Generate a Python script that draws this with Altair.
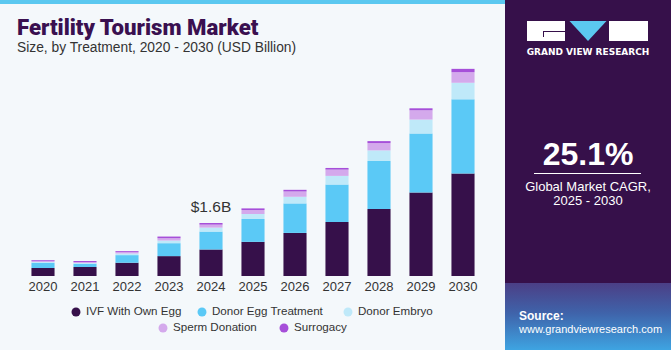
import altair as alt
import pandas as pd

years = ["2020", "2021", "2022", "2023", "2024", "2025", "2026", "2027", "2028", "2029", "2030"]
series = ["IVF With Own Egg", "Donor Egg Treatment", "Donor Embryo", "Sperm Donation", "Surrogacy"]
ivf_own_egg = [0.24, 0.27, 0.40, 0.60, 0.80, 1.03, 1.30, 1.63, 2.02, 2.52, 3.09]
donor_egg = [0.16, 0.10, 0.23, 0.39, 0.54, 0.69, 0.89, 1.13, 1.45, 1.78, 2.24]
donor_embryo = [0.02, 0.02, 0.05, 0.08, 0.12, 0.15, 0.20, 0.26, 0.32, 0.42, 0.50]
sperm_donation = [0.04, 0.03, 0.04, 0.07, 0.09, 0.12, 0.16, 0.19, 0.22, 0.28, 0.32]
surrogacy = [0.02, 0.03, 0.03, 0.05, 0.05, 0.05, 0.05, 0.05, 0.06, 0.06, 0.10]
colors = ["#36104a", "#5bc9f6", "#bfe9f9", "#d4a9ec", "#a64fd9"]
annot_year = "2024"

FONT = "Liberation Sans"
OX, OY = 22, 44  # plot origin in page
W, H = 462, 232

values = [ivf_own_egg, donor_egg, donor_embryo, sperm_donation, surrogacy]
rows = []
for si, (s, vals) in enumerate(zip(series, values)):
    for y, v in zip(years, vals):
        rows.append({"year": y, "series": s, "value": v, "order": si})
df = pd.DataFrame(rows)

dummy = pd.DataFrame({"a": [0]})


def rect(x1, y1, x2, y2, color, **kw):
    return alt.Chart(dummy).mark_rect(color=color, **kw).encode(
        x=alt.value(x1 - OX), x2=alt.value(x2 - OX),
        y=alt.value(y1 - OY), y2=alt.value(y2 - OY))


def txt(s, x, y, size, color, weight="normal", align="left", baseline="middle", font=FONT, **kw):
    return alt.Chart(dummy).mark_text(text=s, fontSize=size, color=color, fontWeight=weight,
                                      align=align, baseline=baseline, font=font, **kw).encode(
        x=alt.value(x - OX), y=alt.value(y - OY))


layers = []
# top strip
layers.append(rect(0, 0, 505, 4, "#5bc8f0"))
# right panel
layers.append(rect(505, 0, 671, 350, "#36104a"))
layers.append(rect(505, 283, 671, 350, alt.Gradient(
    gradient="linear", x1=0, x2=0, y1=0, y2=1,
    stops=[alt.GradientStop(color="#4b3f86", offset=0),
           alt.GradientStop(color="#3f63aa", offset=0.45),
           alt.GradientStop(color="#3ea4e2", offset=1)])))
# logo
layers.append(rect(527, 21, 565, 41, "#ffffff"))
layers.append(rect(609, 21, 648, 41, "#ffffff"))
layers.append(rect(543, 31, 565, 32, "#36104a"))
layers.append(rect(543, 31, 544, 37, "#36104a"))
layers.append(alt.Chart(dummy).mark_point(shape="M -1 -0.54 L 1 -0.54 L 0 0.54 Z", filled=True,
                                          fill="#5bc8f0", strokeWidth=0, size=1369, opacity=1).encode(
    x=alt.value(588 - OX), y=alt.value(31 - OY)))
layers.append(txt("GRAND VIEW RESEARCH", 588, 52, 9.0, "#ffffff", weight="bold", align="center",
                  font="DejaVu Sans"))
# CAGR
layers.append(txt("25.1%", 588, 155, 32, "#ffffff", weight="bold", align="center"))
layers.append(rect(534, 173, 641, 174, "#ffffff"))
layers.append(txt("Global Market CAGR,", 588, 187, 13, "#ffffff", align="center"))
layers.append(txt("2025 - 2030", 588, 201, 13, "#ffffff", align="center"))
layers.append(txt("Source:", 519, 316, 12, "#ffffff", weight="bold"))
layers.append(txt("www.grandviewresearch.com", 519, 330, 11, "#ffffff"))
# titles
layers.append(txt("Fertility Tourism Market", 17, 28, 22.2, "#3a1050", weight=900, font="Roboto"))
layers.append(txt("Size, by Treatment, 2020 - 2030 (USD Billion)", 17, 48, 13.8, "#333333"))

# bars
bars = alt.Chart(df).mark_bar().encode(
    x=alt.X("year:N", sort=years, title=None,
            scale=alt.Scale(paddingInner=0.45, paddingOuter=0.225),
            axis=alt.Axis(labelAngle=0, ticks=False, domain=False, labelFont=FONT,
                          labelFontSize=13, labelColor="#333333", labelPadding=4)),
    y=alt.Y("value:Q", stack="zero", title=None, scale=alt.Scale(domain=[0, 7]), axis=None),
    color=alt.Color("series:N", scale=alt.Scale(domain=series, range=colors), legend=None),
    order=alt.Order("order:Q", sort="ascending"),
)

idx = years.index(annot_year)
total = sum(v[idx] for v in values)
ann = pd.DataFrame({"year": [annot_year], "value": [total], "label": [f"${total:.1f}B"]})
ann_text = alt.Chart(ann).mark_text(font=FONT, fontSize=15.5, color="#333333", baseline="bottom",
                                    dy=-8).encode(
    x=alt.X("year:N", sort=years), y=alt.Y("value:Q"), text="label:N")
layers.append(alt.layer(bars, ann_text))

# legend
leg_pos = [(76, 312), (202, 312), (348, 312), (163, 328), (284, 328)]
leg = pd.DataFrame({"series": series,
                    "px": [p[0] - OX for p in leg_pos],
                    "py": [p[1] - OY for p in leg_pos]})
leg_dots = alt.Chart(leg).mark_circle(size=80, opacity=1).encode(
    x=alt.X("px:Q", scale=None, axis=None), y=alt.Y("py:Q", scale=None, axis=None),
    color=alt.Color("series:N", scale=alt.Scale(domain=series, range=colors), legend=None))
leg_text = alt.Chart(leg).mark_text(align="left", baseline="middle", dx=10, font=FONT,
                                    fontSize=11.6, color="#333333").encode(
    x=alt.X("px:Q", scale=None, axis=None), y=alt.Y("py:Q", scale=None, axis=None),
    text="series:N")
layers.append(alt.layer(leg_dots, leg_text))

chart = alt.layer(*layers).resolve_scale(x="independent", y="independent").properties(
    width=W, height=H,
    padding={"left": OX, "top": OY, "right": 671 - OX - W, "bottom": 350 - OY - H},
    autosize=alt.AutoSizeParams(type="none"),
    background="#f4f8fb",
).configure_view(stroke=None)

chart.save("out.html", embed_options={"renderer": "svg", "actions": False})
